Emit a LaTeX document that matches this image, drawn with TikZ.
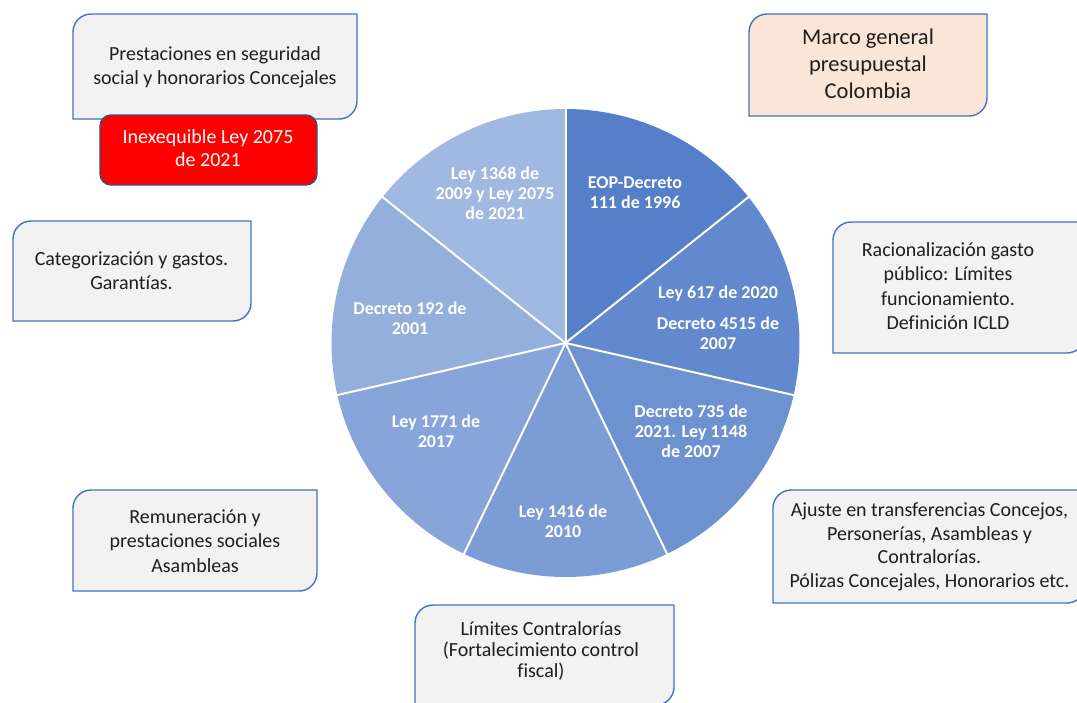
\documentclass[tikz,border=0pt]{standalone}
\usepackage{fontspec}
\setmainfont{Carlito}[Ligatures={NoCommon}]
\definecolor{bline}{RGB}{68,114,196}
\definecolor{bfill}{RGB}{242,242,242}
\definecolor{pfill}{RGB}{251,229,214}
\definecolor{rline}{RGB}{47,82,143}
\definecolor{txtc}{RGB}{30,30,30}
\definecolor{sA}{RGB}{86,127,201}
\definecolor{sB}{RGB}{98,137,205}
\definecolor{sC}{RGB}{110,146,208}
\definecolor{sD}{RGB}{123,156,212}
\definecolor{sE}{RGB}{135,165,216}
\definecolor{sF}{RGB}{148,175,220}
\definecolor{sG}{RGB}{161,184,224}
\newcommand\rdbox[3]{%
  \filldraw[boxline, fill=#2] (#1.south west) -- ([yshift=-#3]#1.north west)
    arc[start angle=180, end angle=90, radius=#3] -- (#1.north east)
    -- ([yshift=#3]#1.south east) arc[start angle=0, end angle=-90, radius=#3] -- cycle;}
\tikzset{
  boxline/.style={draw=bline, line width=1.4pt},
  shapebox/.style={draw=none, inner sep=0pt, outer sep=0pt},
  boxtxt/.style={inner sep=0pt, align=center, text=txtc, font=\fontsize{20}{24.5}\selectfont},
  pietxt/.style={inner sep=0pt, align=center, text=white, font=\bfseries\fontsize{18}{20}\selectfont},
}
\begin{document}
\begin{tikzpicture}[x=1pt, y=1pt]
\useasboundingbox (0,0) rectangle (1077,-702);
\fill[white] (0,0) rectangle (1077,-702);

% pie
\begin{scope}[shift={(565.5,-343)}]
\foreach \i/\c in {0/sA,1/sB,2/sC,3/sD,4/sE,5/sF,6/sG}{
  \pgfmathsetmacro\sa{90-51.428571*\i}
  \pgfmathsetmacro\ea{90-51.428571*(\i+1)}
  \fill[\c] (0,0) -- (\sa:234) arc[start angle=\sa, end angle=\ea, radius=234] -- cycle;
}
\foreach \i in {0,...,6}{
  \pgfmathsetmacro\sa{90-51.428571*\i}
  \draw[white, line width=2pt] (0,0) -- (\sa:234.5);
}
\end{scope}

% pie labels
\node[pietxt] (p1) at (635,-193) {EOP-Decreto\\111 de 1996};
\node[pietxt] (p2a) at (718,-294) {Ley 617 de 2020};
\node[pietxt] (p2b) at (718,-333) {Decreto 4515 de\\2007};
\node[pietxt] (p3) at (691,-431.5) {Decreto 735 de\\2021. Ley 1148\\de 2007};
\node[pietxt] (p4) at (563,-521.5) {Ley 1416 de\\2010};
\node[pietxt] (p5) at (436,-431.5) {Ley 1771 de\\2017};
\node[pietxt] (p6) at (410,-318) {Decreto 192 de\\2001};
\node[pietxt] (p7) at (495,-193) {Ley 1368 de\\2009 y Ley 2075\\de 2021};

% boxes
\node[shapebox, minimum width=284pt, minimum height=105pt] (bpres) at (215,-66.5) {};
\rdbox{bpres}{bfill}{18pt}
\node[boxtxt] (tpres) at (215,-67.5) {Prestaciones en seguridad\\social y honorarios Concejales};

\node[shapebox, minimum width=217pt, minimum height=70pt] (bred) at (208.5,-150) {};
\filldraw[draw=rline, line width=1.3pt, fill=red, rounded corners=11pt] (bred.south west) rectangle (bred.north east);
\node[boxtxt, text=white, font=\fontsize{20}{23}\selectfont] (tred) at (208,-148.5) {Inexequible Ley 2075\\de 2021};

\node[shapebox, minimum width=238pt, minimum height=102pt] (bmarco) at (868,-65) {};
\rdbox{bmarco}{pfill}{18pt}
\node[boxtxt, font=\fontsize{22.5}{27}\selectfont] (tmarco) at (868,-64) {Marco general\\presupuestal\\Colombia};

\node[shapebox, minimum width=238pt, minimum height=100pt] (bcat) at (132,-271) {};
\rdbox{bcat}{bfill}{18pt}
\node[boxtxt] (tcat) at (131.5,-270.5) {Categorización y gastos.\\Garantías.};

\node[shapebox, minimum width=252pt, minimum height=131pt] (brac) at (959,-287.5) {};
\rdbox{brac}{bfill}{18pt}
\node[boxtxt] (trac) at (948,-286) {Racionalización gasto\\público: Límites\\funcionamiento.\\Definición ICLD};

\node[shapebox, minimum width=244pt, minimum height=101pt] (brem) at (195,-540.5) {};
\rdbox{brem}{bfill}{18pt}
\node[boxtxt] (trem) at (195,-541) {Remuneración y\\prestaciones sociales\\Asambleas};

\node[shapebox, minimum width=312pt, minimum height=113pt] (baj) at (929,-546.5) {};
\rdbox{baj}{bfill}{18pt}
\node[boxtxt, font=\fontsize{20}{23.5}\selectfont] (taj) at (929.5,-547) {Ajuste en transferencias Concejos,\\Personerías, Asambleas y\\Contralorías.\\Pólizas Concejales, Honorarios etc.};

\node[shapebox, minimum width=259pt, minimum height=100pt] (blim) at (544.5,-655) {};
\rdbox{blim}{bfill}{18pt}
\node[boxtxt, font=\fontsize{20}{21}\selectfont] (tlim) at (541,-651) {Límites Contralorías\\(Fortalecimiento control\\fiscal)};
\end{tikzpicture}
\end{document}
